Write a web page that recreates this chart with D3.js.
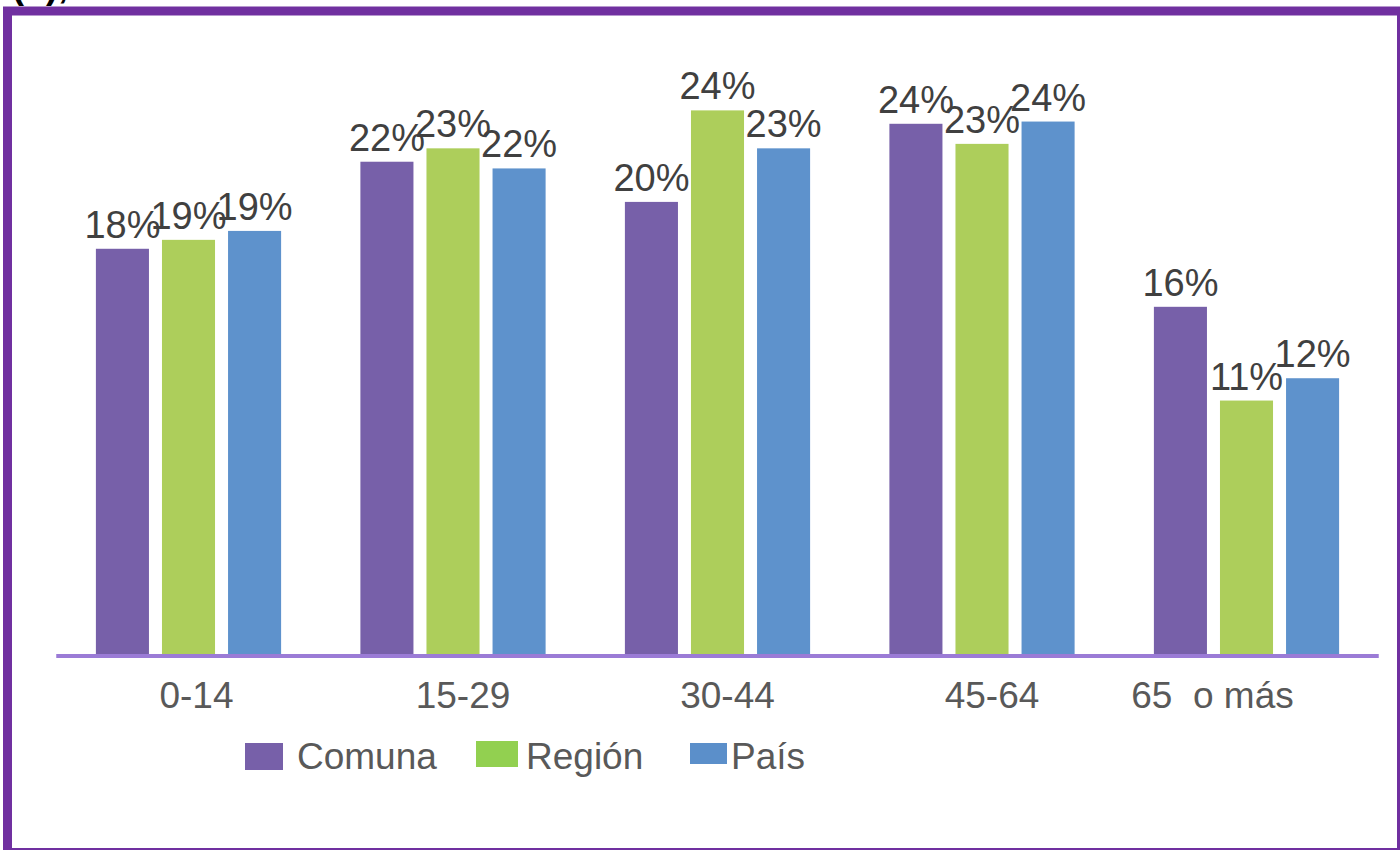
<!DOCTYPE html>
<html>
<head>
<meta charset="utf-8">
<script src="https://cdn.jsdelivr.net/npm/d3@7"></script>
<style>
    body { margin: 0; background: #fff; }
    #chart text { font-family: "Liberation Sans", Arial, sans-serif; }
</style>
</head>
<body>
<div id="chart"></div>
<script>
// age groups on the x axis
const categories = ["0-14", "15-29", "30-44", "45-64", "65  o más"];
const seriesNames = ["Comuna", "Región", "País"];

// share of population per age group (%)
const comuna = [18.2, 22.1, 20.3, 23.8, 15.6];
const region = [18.6, 22.7, 24.4, 22.9, 11.4];
const pais   = [19.0, 21.8, 22.7, 23.9, 12.4];

class AgeChart {

    constructor() {
        this.width = 1400;
        this.height = 850;
        this.baseY = 655;
        this.svg = null;
        this.x0 = null;
        this.x1 = null;
        this.y = null;
        this.barColors = d3.scaleOrdinal().domain(seriesNames).range(["#7760A9", "#ADCE5B", "#5E92CC"]);
        this.keyColors = d3.scaleOrdinal().domain(seriesNames).range(["#7760A9", "#92D050", "#5B8FCA"]);
    }

    setup() {
        this.svg = d3.select("#chart")
            .append("svg")
            .attr("width", this.width)
            .attr("height", this.height);

        // frame, partly cut off on the right and bottom
        this.svg.append("rect")
            .attr("x", 7.5)
            .attr("y", 11)
            .attr("width", 1394)
            .attr("height", 841.5)
            .attr("fill", "none")
            .attr("stroke", "#7030A0")
            .attr("stroke-width", 9);

        // label above the frame, only its lower part is visible
        this.svg.append("text")
            .attr("x", 12)
            .attr("y", -2)
            .attr("font-size", 36)
            .attr("font-weight", "bold")
            .attr("fill", "#000")
            .text("(b),");

        this.x0 = d3.scaleBand().domain(categories).range([56.25, 1378.75]).padding(0);
        this.x1 = d3.scaleBand().domain(seriesNames).range([0, this.x0.bandwidth()])
            .paddingInner(0.197)
            .paddingOuter(0.6);
        this.y = d3.scaleLinear().domain([0, 25]).range([this.baseY, this.baseY - 558]);
    }

    drawBars() {
        const that = this;
        const rows = seriesNames.map((name, i) => ({
            name: name,
            values: [comuna, region, pais][i]
        }));

        const flat = [];
        rows.forEach(function (r) {
            r.values.forEach(function (v, j) {
                flat.push({ series: r.name, cat: categories[j], value: v });
            });
        });

        this.svg.selectAll(".bar")
            .data(flat)
            .enter().append("rect")
            .attr("class", "bar")
            .attr("x", d => that.x0(d.cat) + that.x1(d.series))
            .attr("y", d => that.y(d.value))
            .attr("width", this.x1.bandwidth())
            .attr("height", d => that.baseY - that.y(d.value))
            .attr("fill", d => that.barColors(d.series));

        this.svg.selectAll(".val")
            .data(flat)
            .enter().append("text")
            .attr("class", "val")
            .attr("x", d => that.x0(d.cat) + that.x1(d.series) + that.x1.bandwidth() / 2)
            .attr("y", d => that.y(d.value) - 11)
            .attr("text-anchor", "middle")
            .attr("font-size", 38)
            .attr("fill", "#404040")
            .text(d => Math.round(d.value) + "%");

        // x axis
        const xAxis = d3.axisBottom(this.x0).tickSize(0);
        const g = this.svg.append("g")
            .attr("transform", "translate(0," + (this.baseY + 1) + ")")
            .call(xAxis);
        g.select(".domain").remove();

        // labels sit a bit off their group centres in the original
        const nudge = [8, 10, 10, 10, -34];
        g.selectAll(".tick text")
            .attr("dy", null)
            .attr("y", 52)
            .attr("dx", (d, i) => nudge[i])
            .attr("font-size", 37)
            .attr("font-family", "Liberation Sans, Arial, sans-serif")
            .attr("fill", "#595959")
            .style("white-space", "pre");

        this.svg.append("line")
            .attr("x1", this.x0.range()[0])
            .attr("x2", this.x0.range()[1])
            .attr("y1", this.baseY + 1)
            .attr("y2", this.baseY + 1)
            .attr("stroke", "#9B7BD6")
            .attr("stroke-width", 4);
    }

    drawLegend() {
        const that = this;
        // swatch boxes as they appear in the picture
        const keys = [
            { x: 245, y: 743, w: 38, h: 27, tx: 297 },
            { x: 476, y: 741, w: 42, h: 26, tx: 526 },
            { x: 690, y: 743, w: 37, h: 21, tx: 731 }
        ];

        const item = this.svg.selectAll(".key")
            .data(seriesNames)
            .enter().append("g")
            .attr("class", "key");

        item.append("rect")
            .attr("x", (d, i) => keys[i].x)
            .attr("y", (d, i) => keys[i].y)
            .attr("width", (d, i) => keys[i].w)
            .attr("height", (d, i) => keys[i].h)
            .attr("fill", d => that.keyColors(d));

        item.append("text")
            .attr("x", (d, i) => keys[i].tx)
            .attr("y", 769)
            .attr("font-size", 37)
            .attr("fill", "#595959")
            .text(d => d);
    }
}

const chart = new AgeChart();
chart.setup();
chart.drawBars();
chart.drawLegend();
</script>
</body>
</html>
